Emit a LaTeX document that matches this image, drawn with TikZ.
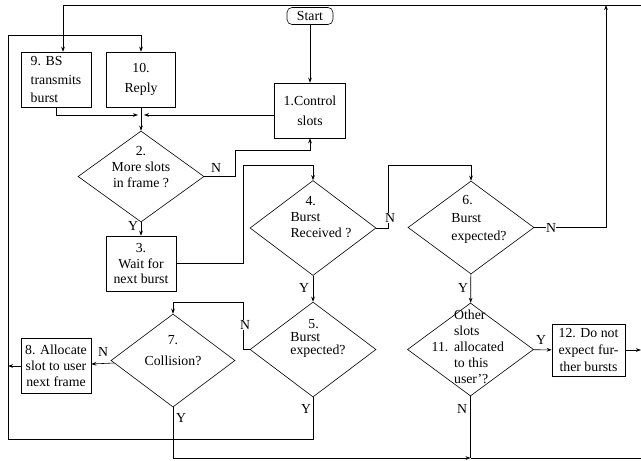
\documentclass[tikz,border=0pt]{standalone}
\usepackage{fontspec}
\setmainfont{Liberation Serif}
\usetikzlibrary{shapes.geometric,arrows.meta}
\newcommand\fsz[1]{\fontsize{13.8}{#1}\selectfont}
\tikzset{
  box/.style={draw, line width=0.6pt, inner sep=0pt, align=center, font=\fsz{17}},
  dia/.style={draw, diamond, inner sep=0pt, line width=0.6pt},
  txt/.style={inner sep=0pt, font=\fsz{16}},
  arr/.style={-{Stealth[length=5pt,width=3.6pt]}, line width=0.6pt},
  ln/.style={line width=0.6pt},
  lab/.style={inner sep=0.5pt, font=\fsz{16}, fill=white}
}
\begin{document}
\begin{tikzpicture}[x=1pt,y=-1pt]
\useasboundingbox (0,0) rectangle (641,461);
% boxes
\node[box, rounded corners=5pt, minimum width=46pt, minimum height=17pt] (start) at (310,16) {Start};
\node[box, minimum width=71pt, minimum height=55pt, font=\fsz{20}] (b1) at (310,110.5) {1.Control\\slots};
\node[box, minimum width=70pt, minimum height=55pt, align=left, font=\fsz{18.5}] (b9) at (56,79.5) {9. BS\\transmits\\burst};
\node[box, minimum width=69pt, minimum height=55pt, font=\fsz{20}] (b10) at (141,79.5) {10.\\Reply};
\node[box, minimum width=70pt, minimum height=55pt, font=\fsz{15.5}] (b3) at (141,263.5) {3.\\Wait for\\next burst};
\node[box, minimum width=70pt, minimum height=55pt, font=\fsz{16}] (b8) at (56,365.5) {8. Allocate\\slot to user\\next frame};
\node[box, minimum width=73pt, minimum height=52pt, font=\fsz{17}] (b12) at (588.5,350) {12. Do not\\expect fur-\\ther bursts};
% diamonds
\node[dia, minimum width=126pt, minimum height=91pt] (d2) at (141,176.5) {};
\node[dia, minimum width=126pt, minimum height=95pt] (d4) at (313,228) {};
\node[dia, minimum width=126pt, minimum height=93pt] (d6) at (471,227.5) {};
\node[dia, minimum width=126pt, minimum height=95pt] (d5) at (313,349.5) {};
\node[dia, minimum width=124pt, minimum height=93pt] (d7) at (173,360.5) {};
\node[dia, minimum width=126pt, minimum height=93pt] (d11) at (470.5,349.5) {};
% diamond texts
\node[txt, align=center, font=\fsz{16}] (t2) at (141,167) {2.\\More slots\\in frame ?};
\node[txt, align=left, font=\fsz{16}] (t4) at (321,217) {\hspace{15pt}4.\\Burst\\Received ?};
\node[txt, align=left, font=\fsz{18}] (t6) at (479,219) {\hspace{11pt}6.\\Burst\\expected?};
\node[txt, align=left, font=\fsz{13}] (t5) at (318,338) {\hspace{18pt}5.\\Burst\\expected?};
\node[txt, align=center, font=\fsz{21}] (t7) at (173,351) {7.\\Collision?};
\node[txt, align=left, font=\fsz{16}] (t11) at (479,347) {Other\\slots\\allocated\\to this\\user'?};
\node[txt] (t11n) at (440,347) {11.};
% coordinates
\coordinate (j1) at (141,115);
\coordinate (c2a) at (235,150);
\coordinate (c3a) at (243,165);
\coordinate (c4a) at (388,165);
\coordinate (c6a) at (606,5);
\coordinate (ctr) at (641,5);
\coordinate (cr12) at (641,350);
\coordinate (c11b) at (470.5,458);
\coordinate (cbr) at (641,458);
\coordinate (c5a) at (243,302);
\coordinate (cl8) at (8,366);
\coordinate (cbl) at (8,439);
\coordinate (ctl) at (8,35);
% connectors
\draw[arr] (start) -- (b1);
\draw[arr, shorten >=3pt] (b9.south) |- (j1);
\draw[arr, shorten >=3pt] (b1.west |- j1) -- (j1);
\draw[arr] (b10) -- (d2);
\draw[arr] (d2.east) -| (c2a) -| (b1.south);
\draw[arr] (d2) -- (b3);
\draw[arr] (b3.east) -| (c3a) -| (d4.north);
\draw[arr] (d4.east) -| (c4a) -| (d6.north);
\draw[arr] (d6.east) -| (c6a);
\draw[arr] (ctr) -| ([xshift=7pt]b9.north);
\draw[arr] (d6) -- (d11);
\draw[arr] (d11) -- (b12);
\draw[arr] (b12) -- (cr12);
\draw[ln] (d11.south) -- (c11b);
\draw[arr] (d4) -- (d5);
\draw[arr] (d5.west) -| (c5a) -| (d7.north);
\draw[arr] (d7) -- (b8);
\draw[arr] (b8.west |- cl8) -- (cl8);
\draw[arr] (d5.south) |- (cbl) -- (ctl) -| (b10.north);
\draw[arr] (d7.south) |- (c11b);
\draw[ln] (c11b) -- (cbr);
% labels
\node[lab] (l2n) at (216,168) {N};
\node[lab] (l2y) at (133,226) {Y};
\node[lab] (l4n) at (390,218) {N};
\node[lab] (l6n) at (551,227.5) {N};
\node[lab] (l4y) at (304,288) {Y};
\node[lab] (l6y) at (463,288) {Y};
\node[lab] (l11y) at (541,340) {Y};
\node[lab] (l11n) at (462,409) {N};
\node[lab] (l5n) at (245,325) {N};
\node[lab] (l7n) at (103,352) {N};
\node[lab] (l7y) at (181,418) {Y};
\node[lab] (l5y) at (306,409) {Y};
\end{tikzpicture}
\end{document}
